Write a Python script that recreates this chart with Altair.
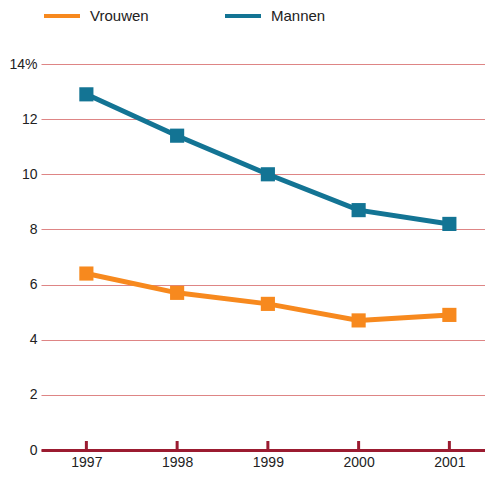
import altair as alt
import pandas as pd

years = [1997, 1998, 1999, 2000, 2001]
vrouwen = [6.4, 5.7, 5.3, 4.7, 4.9]
mannen = [12.9, 11.4, 10.0, 8.7, 8.2]
series = ["Vrouwen", "Mannen"]
colors = ["#F7891E", "#137494"]
y_ticks = [0, 2, 4, 6, 8, 10, 12, 14]

df = pd.DataFrame({
    "jaar": years * 2,
    "groep": [series[0]] * len(years) + [series[1]] * len(years),
    "waarde": vrouwen + mannen,
})
ticks_df = pd.DataFrame({"jaar": years})

FONT = "Liberation Sans"
AXIS_RED = "#9B1B30"
W, H = 444, 386

xscale = alt.Scale(domain=[1996.5, 1996.5 + W / 90.75], nice=False, zero=False)
yscale = alt.Scale(domain=[0, 14], nice=False)

x_enc = alt.X(
    "jaar:Q", scale=xscale,
    axis=alt.Axis(values=years, format="d", title=None, grid=False, ticks=False,
                  domain=True, domainColor=AXIS_RED, domainWidth=3,
                  labelPadding=5, labelFontSize=14, labelColor="#222222",
                  labelFont=FONT),
)
y_enc = alt.Y(
    "waarde:Q", scale=yscale,
    axis=alt.Axis(values=y_ticks, title=None, grid=True, gridColor="#DE8585",
                  gridWidth=1, domain=False, ticks=False, labelPadding=4,
                  labelFontSize=14, labelColor="#222222", labelFont=FONT,
                  labelExpr="datum.value == 14 ? '14%' : datum.label"),
)
color_enc = alt.Color(
    "groep:N", scale=alt.Scale(domain=series, range=colors), sort=series,
    legend=alt.Legend(orient="none", legendX=1, legendY=-68, direction="horizontal",
                      title=None, symbolType="stroke", symbolSize=1296,
                      symbolStrokeWidth=4, labelFontSize=15, labelFont=FONT,
                      labelColor="#222222", columnPadding=68, labelOffset=8),
)

lines = alt.Chart(df).mark_line(strokeWidth=5).encode(
    x=x_enc, y=y_enc, color=color_enc, order="jaar:Q"
)
points = alt.Chart(df).mark_point(shape="square", filled=True, size=200, opacity=1).encode(
    x=alt.X("jaar:Q", scale=xscale),
    y=alt.Y("waarde:Q", scale=yscale),
    color=alt.Color("groep:N", scale=alt.Scale(domain=series, range=colors), legend=None),
)
tickmarks = alt.Chart(ticks_df).mark_rule(color=AXIS_RED, strokeWidth=3).encode(
    x=alt.X("jaar:Q", scale=xscale),
    y=alt.value(H), y2=alt.value(H - 9),
)

chart = alt.layer(lines, points, tickmarks).properties(
    width=W, height=H,
    autosize=alt.AutoSizeParams(type="none"),
    padding={"left": 33, "top": 56, "right": 0, "bottom": 22},
).configure_view(stroke=None)

chart.save("out.html", embed_options={"renderer": "svg", "actions": False})
